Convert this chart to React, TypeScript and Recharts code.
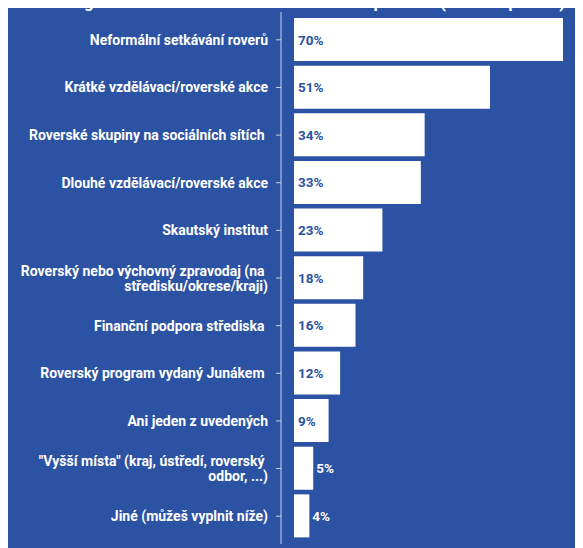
import React from "react";
import { BarChart, Bar, XAxis, YAxis, LabelList } from "recharts";

const categories: string[] = [
  "Neformální setkávání roverů",
  "Krátké vzdělávací/roverské akce",
  "Roverské skupiny na sociálních sítích ",
  "Dlouhé vzdělávací/roverské akce",
  "Skautský institut",
  "Roverský nebo výchovný zpravodaj (na \nstředisku/okrese/kraji)",
  "Finanční podpora střediska ",
  "Roverský program vydaný Junákem ",
  "Ani jeden z uvedených",
  "\"Vyšší místa\" (kraj, ústředí, roverský \nodbor, ...)",
  "Jiné (můžeš vyplnit níže)",
];
const values: number[] = [70, 51, 34, 33, 23, 18, 16, 12, 9, 5, 4];
const valueLabels: string[] = ["70%", "51%", "34%", "33%", "23%", "18%", "16%", "12%", "9%", "5%", "4%"];
const title = "Roveringu ale mé vlastní zkušenosti zkušeně pomohl: (1727 odpovědí)";

const data = categories.map((c, i) => ({ name: c, value: values[i], label: valueLabels[i] }));

const BG = "#2C52A3";
const FONT = "Roboto, 'Noto Sans', sans-serif";

const CategoryTick = (props: any) => {
  const { x, y, payload } = props;
  const lines = String(payload.value).split("\n");
  const lh = 15;
  const startDy = -((lines.length - 1) * lh) / 2;
  return (
    <text
      x={x}
      y={y}
      textAnchor="end"
      fill="#ffffff"
      fontFamily={FONT}
      fontWeight={700}
      fontSize={14}
      style={{ whiteSpace: "pre" }}
    >
      {lines.map((l, i) => (
        <tspan key={i} x={x} dy={i === 0 ? startDy + 5 : lh}>
          {l}
        </tspan>
      ))}
    </text>
  );
};

const ValueLabel = (props: any) => {
  const { x, y, width, height, value } = props;
  const inside = width > 30;
  return (
    <text
      x={inside ? x + 4 : x + width + 3}
      y={y + height / 2 + 5}
      textAnchor="start"
      fill={inside ? BG : "#ffffff"}
      fontFamily={FONT}
      fontWeight={700}
      fontSize={13.5}
    >
      {value}
    </text>
  );
};

export default function App() {
  return (
    <div
      style={{
        position: "relative",
        marginTop: -8,
        width: 575,
        height: 548,
        background: BG,
        overflow: "hidden",
      }}
    >
      <div
        style={{
          position: "absolute",
          top: -8,
          left: 0,
          width: 575,
          textAlign: "center",
          color: "#ffffff",
          fontFamily: FONT,
          fontWeight: 700,
          fontSize: 17,
          lineHeight: "20px",
          whiteSpace: "nowrap",
        }}
      >
        {title}
      </div>
      <BarChart
        layout="vertical"
        width={575}
        height={548}
        data={data}
        margin={{ top: 12, right: 20, bottom: 4, left: 0 }}
        barSize={43}
      >
        <XAxis type="number" hide domain={[0, 70]} padding={{ left: 13, right: 0 }} />
        <YAxis
          type="category"
          dataKey="name"
          width={273}
          interval={0}
          tickSize={5}
          tickMargin={8}
          padding={{ top: 4, bottom: 4 }}
          axisLine={{ stroke: "#c9d2ea", strokeWidth: 1 }}
          tickLine={{ stroke: "#c9d2ea", strokeWidth: 1 }}
          tick={<CategoryTick />}
        />
        <Bar dataKey="value" fill="#ffffff" isAnimationActive={false}>
          <LabelList dataKey="label" content={<ValueLabel />} />
        </Bar>
      </BarChart>
    </div>
  );
}
